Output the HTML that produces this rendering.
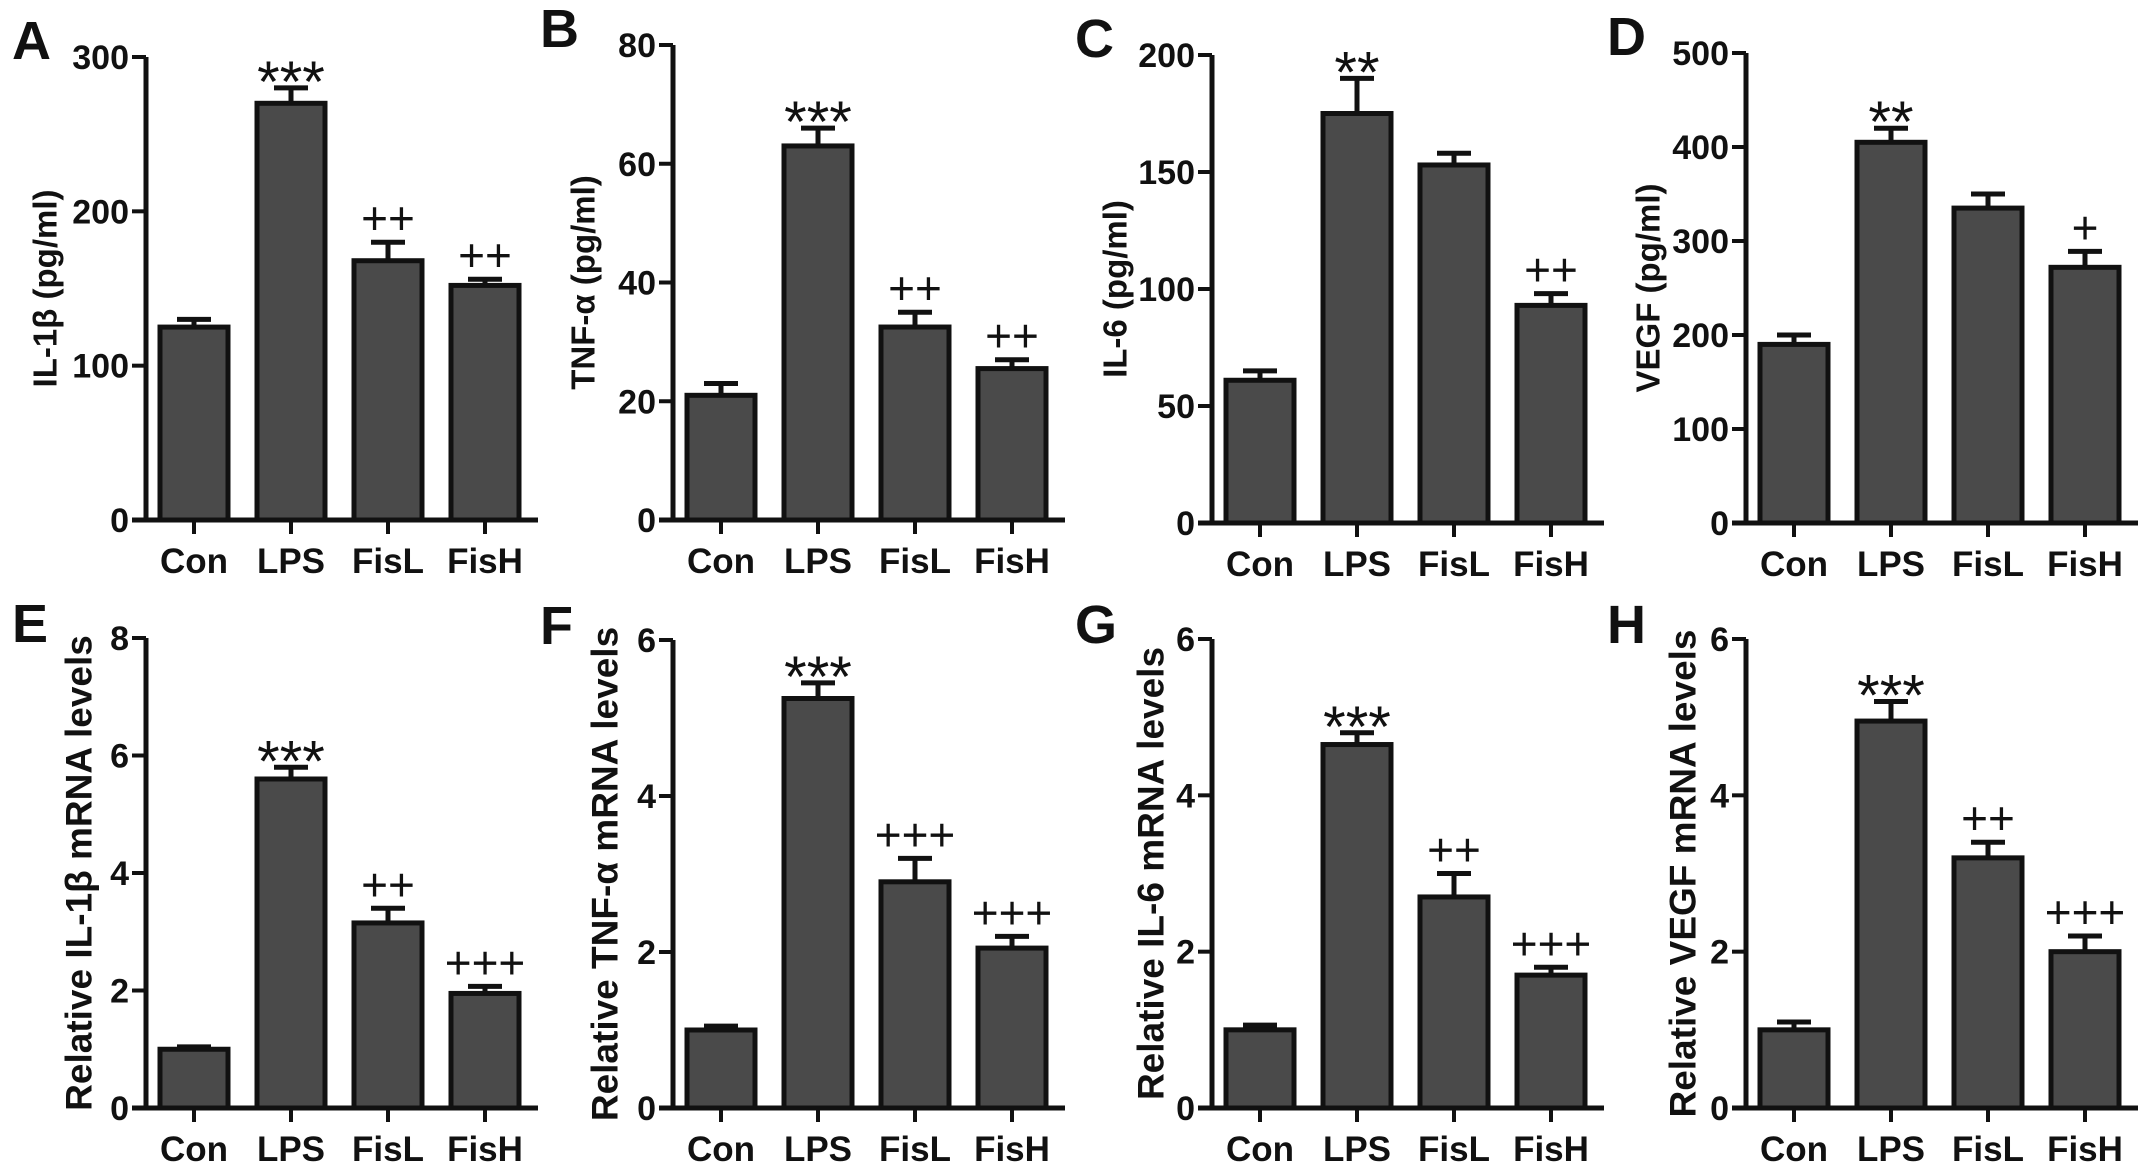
<!DOCTYPE html>
<html><head><meta charset="utf-8"><style>
html,body{margin:0;padding:0;background:#fff;}
svg text{font-family:"Liberation Sans",Arial,sans-serif;font-weight:bold;fill:#111;}
</style></head><body>
<svg id="fig" width="2150" height="1170" viewBox="0 0 2150 1170" xmlns="http://www.w3.org/2000/svg"></svg>
<script>
const categories = ["Con","LPS","FisL","FisH"];
const valsA = [125,270,168,152]; const errA = [5,10,12,4]; const sigA = ["","***","++","++"];
const valsB = [21,63,32.5,25.5]; const errB = [2,3,2.5,1.5]; const sigB = ["","***","++","++"];
const valsC = [61,175,153,93]; const errC = [4,15,5,5]; const sigC = ["","**","","++"];
const valsD = [190,405,335,272]; const errD = [10,15,15,17]; const sigD = ["","**","","+"];
const valsE = [1.0,5.6,3.15,1.95]; const errE = [0.04,0.2,0.25,0.12]; const sigE = ["","***","++","+++"];
const valsF = [1.0,5.25,2.9,2.05]; const errF = [0.05,0.2,0.3,0.15]; const sigF = ["","***","+++","+++"];
const valsG = [1.0,4.65,2.7,1.7]; const errG = [0.06,0.15,0.3,0.1]; const sigG = ["","***","++","+++"];
const valsH = [1.0,4.95,3.2,2.0]; const errH = [0.1,0.25,0.2,0.2]; const sigH = ["","***","++","+++"];
const ticksA = [0,100,200,300];
const ticksB = [0,20,40,60,80];
const ticksC = [0,50,100,150,200];
const ticksD = [0,100,200,300,400,500];
const ticksE = [0,2,4,6,8];
const ticksF = [0,2,4,6];
const ticksG = [0,2,4,6];
const ticksH = [0,2,4,6];

const NS="http://www.w3.org/2000/svg";
const svg=document.getElementById('fig');
function mk(tag,attrs,parent){const e=document.createElementNS(NS,tag);for(const k in attrs)e.setAttribute(k,attrs[k]);(parent||svg).appendChild(e);return e;}

const panels=[
 {id:"a",letter:"A",lx:12,ax:146,top:57,zero:520,vals:valsA,err:errA,sig:sigA,ticks:ticksA,title:"IL-1β (pg/ml)",tx:45},
 {id:"b",letter:"B",lx:540,ax:673,top:45,zero:520,vals:valsB,err:errB,sig:sigB,ticks:ticksB,title:"TNF-α (pg/ml)",tx:583},
 {id:"c",letter:"C",lx:1075,ax:1212,top:55,zero:523,vals:valsC,err:errC,sig:sigC,ticks:ticksC,title:"IL-6 (pg/ml)",tx:1115},
 {id:"d",letter:"D",lx:1607,ax:1746,top:53,zero:523,vals:valsD,err:errD,sig:sigD,ticks:ticksD,title:"VEGF (pg/ml)",tx:1648},
 {id:"e",letter:"E",lx:12,ax:146,top:638,zero:1108,vals:valsE,err:errE,sig:sigE,ticks:ticksE,title:"Relative IL-1β mRNA levels",tx:79},
 {id:"f",letter:"F",lx:540,ax:673,top:640,zero:1108,vals:valsF,err:errF,sig:sigF,ticks:ticksF,title:"Relative TNF-α mRNA levels",tx:605},
 {id:"g",letter:"G",lx:1075,ax:1212,top:639,zero:1108,vals:valsG,err:errG,sig:sigG,ticks:ticksG,title:"Relative IL-6 mRNA levels",tx:1151},
 {id:"h",letter:"H",lx:1607,ax:1746,top:639,zero:1108,vals:valsH,err:errH,sig:sigH,ticks:ticksH,title:"Relative VEGF mRNA levels",tx:1683}
];

panels.forEach(p=>{
  const g=mk('g',{});
  
  
  const maxT=p.ticks[p.ticks.length-1];
  const y=v=>p.zero-(v/maxT)*(p.zero-p.top);
  const xc=i=>p.ax+48+i*97;
  const bw=68;
  const L=mk('text',{x:p.lx,y:p.top+(p.id<'e'?2:4),'font-size':54},g);
  L.textContent=p.letter;
  
  
  const cy=(p.top+p.zero)/2;
  const T=mk('text',{x:p.tx,y:cy,'font-size':p.id<'e'?33:37,'text-anchor':'middle','dominant-baseline':'central',transform:`rotate(-90 ${p.tx} ${cy})`},g);
  T.textContent=p.title;
  
  
  p.vals.forEach((v,i)=>{
    const top=y(v+p.err[i]);
    const eb=mk('path',{d:`M${xc(i)} ${y(v)} V${top} M${xc(i)-17} ${top} H${xc(i)+17}`,stroke:'#111','stroke-width':5,fill:'none'},g);
    
    
    const r=mk('rect',{x:xc(i)-bw/2,y:y(v),width:bw,height:p.zero-y(v),fill:'#4a4a4a',stroke:'#111','stroke-width':5},g);
    
    
    if(p.sig[i]){
      const star=p.sig[i][0]==='*';
      const s=mk('text',{x:xc(i),y:top-(star?-14:8),'font-size':star?58:46,'text-anchor':'middle'},g);
      s.style.fontWeight='normal';
      s.textContent=p.sig[i];
      
      
    }
    const tk=mk('line',{x1:xc(i),x2:xc(i),y1:p.zero,y2:p.zero+14,stroke:'#111','stroke-width':4},g);
    
    
    const c=mk('text',{x:xc(i),y:p.zero+53,'font-size':35,'text-anchor':'middle'},g);
    c.textContent=categories[i];
    
    
  });
  const ya=mk('line',{x1:p.ax,x2:p.ax,y1:p.top,y2:p.zero,stroke:'#111','stroke-width':5},g);
  
  
  const xa=mk('line',{x1:p.ax-14,x2:p.ax+392,y1:p.zero,y2:p.zero,stroke:'#111','stroke-width':5},g);
  
  
  p.ticks.forEach(t=>{
    const tl=mk('line',{x1:p.ax-14,x2:p.ax,y1:y(t),y2:y(t),stroke:'#111','stroke-width':4},g);
    
    
    const tt=mk('text',{x:p.ax-17,y:y(t)+12,'font-size':34,'text-anchor':'end'},g);
    tt.textContent=t;
    
    
  });
});
</script>
</body></html>
